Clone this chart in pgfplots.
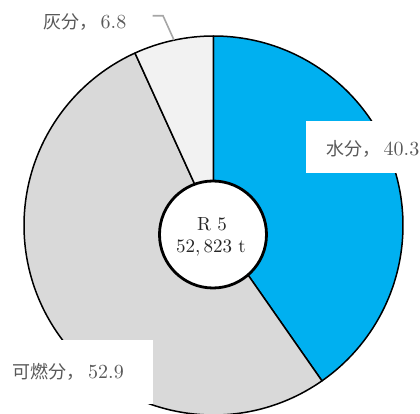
\documentclass[border=0pt]{standalone}
\usepackage{pgfplots}
\pgfplotsset{compat=1.18}
\usepackage{pgfplotstable}
\usepackage{fontspec}
\newfontfamily\cjk{Noto Sans CJK JP}
\definecolor{water}{HTML}{00B0F0}
\definecolor{comb}{HTML}{D9D9D9}
\definecolor{ash}{HTML}{F2F2F2}
\definecolor{lbl}{HTML}{595959}
\definecolor{lead}{HTML}{A6A6A6}
\pgfplotstableread{
name value
water 40.3
comb 52.9
ash 6.8
}\piedata
\newcommand\num[1]{{\fontsize{10pt}{12pt}\selectfont\,#1}}
\begin{document}
\begin{tikzpicture}
\pgfplotstablegetelem{0}{value}\of\piedata \let\vA\pgfplotsretval
\pgfplotstablegetelem{1}{value}\of\piedata \let\vB\pgfplotsretval
\pgfplotstablegetelem{2}{value}\of\piedata \let\vC\pgfplotsretval
\pgfmathsetmacro\aA{90}
\pgfmathsetmacro\aB{90-3.6*\vA}
\pgfmathsetmacro\aC{\aB-3.6*\vB}
\pgfmathsetmacro\aD{\aC-3.6*\vC}
\def\R{94.75pt}
\begin{axis}[
  x=0.5pt, y=0.5pt,
  xmin=0, xmax=420, ymin=0, ymax=414,
  hide axis, clip=false,
]
\coordinate (BL) at (axis cs:0,0);
\coordinate (TR) at (axis cs:420,414);
\coordinate (C) at (axis cs:213.5,188.5);
% sectors
\filldraw[fill=water, draw=black, line width=0.75pt, line join=round]
  (C) -- ++(\aA:\R) arc[start angle=\aA, end angle=\aB, radius=\R] -- cycle;
\filldraw[fill=comb, draw=black, line width=0.75pt, line join=round]
  (C) -- ++(\aB:\R) arc[start angle=\aB, end angle=\aC, radius=\R] -- cycle;
\filldraw[fill=ash, draw=black, line width=0.75pt, line join=round]
  (C) -- ++(\aC:\R) arc[start angle=\aC, end angle=\aD, radius=\R] -- cycle;
% centre circle
\filldraw[fill=white, draw=black, line width=1.4pt] (axis cs:213,179.5) circle[radius=26.75pt];
\node[text=black!85, font=\fontsize{9.5pt}{11pt}\selectfont, inner sep=0pt] at (axis cs:212,189.5) {R 5};
\node[text=black!85, font=\fontsize{9.5pt}{11pt}\selectfont, inner sep=0pt] at (axis cs:211,165.5) {52,\,823 t};
% label boxes
\fill[white] (axis cs:306,241) rectangle (axis cs:432,293);
\node[anchor=west, text=lbl, font=\fontsize{9pt}{11pt}\selectfont, inner sep=0pt] at (axis cs:326,265) {{\cjk 水分，}\num{40.3}};
\fill[white] (axis cs:-10,10) rectangle (axis cs:153,74);
\node[anchor=west, text=lbl, font=\fontsize{9pt}{11pt}\selectfont, inner sep=0pt] at (axis cs:12.5,42) {{\cjk 可燃分，}\num{52.9}};
\node[anchor=west, text=lbl, font=\fontsize{9pt}{11pt}\selectfont, inner sep=0pt] at (axis cs:43,391.5) {{\cjk 灰分，}\num{6.8}};
\draw[lead, line width=0.8pt] (axis cs:152.7,398.3) -- (axis cs:163,398.3) -- (axis cs:174,374);
\end{axis}
\pgfresetboundingbox
\useasboundingbox (BL) rectangle (TR);
\end{tikzpicture}
\end{document}
